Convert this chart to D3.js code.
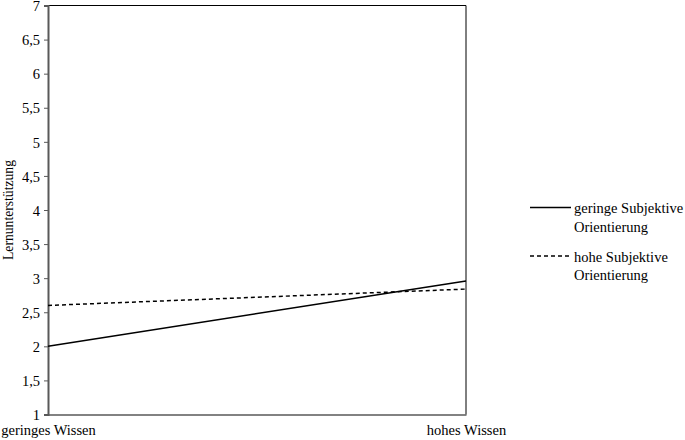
<!DOCTYPE html>
<html>
<head>
<meta charset="utf-8">
<script src="https://cdn.jsdelivr.net/npm/d3@7/dist/d3.min.js"></script>
<style>
  body { margin: 0; background: #fff; }
  svg { display: block; }
</style>
</head>
<body>
<svg id="chart" width="685" height="440"></svg>
<script>
const categories = ["geringes Wissen", "hohes Wissen"];
const seriesNames = ["geringe Subjektive Orientierung", "hohe Subjektive Orientierung"];
const lowOrientation = [2.0, 2.96];
const highOrientation = [2.6, 2.84];
const yTicks = [1, 1.5, 2, 2.5, 3, 3.5, 4, 4.5, 5, 5.5, 6, 6.5, 7];
const yTitle = "Lernunterstützung";

const FONT = '"Liberation Serif", "Times New Roman", serif';

const series = [
  { name: seriesNames[0], values: lowOrientation, dash: null, lines: ["geringe Subjektive", "Orientierung"] },
  { name: seriesNames[1], values: highOrientation, dash: "4,3", lines: ["hohe Subjektive", "Orientierung"] }
];

const svg = d3.select("#chart");
const pLeft = 48, pRight = 466, pTop = 5.5, pBottom = 414.5;

const x = d3.scalePoint().domain(categories).range([pLeft, pRight]);
const y = d3.scaleLinear().domain([1, 7]).range([pBottom, pTop]);

// frame (top & right)
svg.append("line").attr("x1", pLeft).attr("x2", pRight).attr("y1", pTop).attr("y2", pTop)
  .attr("stroke", "#000").attr("stroke-width", 1);
svg.append("line").attr("x1", pRight).attr("x2", pRight).attr("y1", pTop).attr("y2", pBottom)
  .attr("stroke", "#000").attr("stroke-width", 1);

// y axis
const yAxis = d3.axisLeft(y).tickValues(yTicks).tickSize(4).tickPadding(4)
  .tickFormat(d => String(d).replace(".", ","));
const gy = svg.append("g").attr("transform", `translate(${pLeft},0)`).call(yAxis)
  .attr("font-family", FONT).attr("font-size", 14.5);
gy.select(".domain").attr("stroke", "#595959").attr("stroke-width", 2);
gy.selectAll(".tick line").attr("stroke", "#595959").attr("stroke-width", 1);
gy.selectAll(".tick text").attr("fill", "#000").attr("dy", "0.36em");

// x axis
const xAxis = d3.axisBottom(x).tickSize(0).tickPadding(10);
const gx = svg.append("g").attr("transform", `translate(0,${pBottom})`).call(xAxis)
  .attr("font-family", FONT).attr("font-size", 14.5);
gx.select(".domain").attr("stroke", "#595959").attr("stroke-width", 1.5);
gx.selectAll(".tick text").attr("fill", "#000");

// y title
svg.append("text")
  .attr("transform", "translate(13,210) rotate(-90)")
  .attr("text-anchor", "middle")
  .attr("font-family", FONT)
  .attr("font-size", 14)
  .attr("textLength", 100)
  .attr("lengthAdjust", "spacingAndGlyphs")
  .text(yTitle);

// lines
const line = d3.line().x((d, i) => x(categories[i])).y(d => y(d));
series.forEach(s => {
  svg.append("path").datum(s.values)
    .attr("d", line)
    .attr("fill", "none")
    .attr("stroke", "#000")
    .attr("stroke-width", 1.5)
    .attr("stroke-dasharray", s.dash);
});

// legend
const legY = [207.5, 256];
series.forEach((s, i) => {
  svg.append("line").attr("x1", 530).attr("x2", 571).attr("y1", legY[i]).attr("y2", legY[i])
    .attr("stroke", "#000").attr("stroke-width", 1.5).attr("stroke-dasharray", s.dash);
  s.lines.forEach((t, j) => {
    svg.append("text").attr("x", 574).attr("y", legY[i] + 5.5 + j * 18.5)
      .attr("font-family", FONT).attr("font-size", 14.5).attr("fill", "#000").text(t);
  });
});
</script>
</body>
</html>
